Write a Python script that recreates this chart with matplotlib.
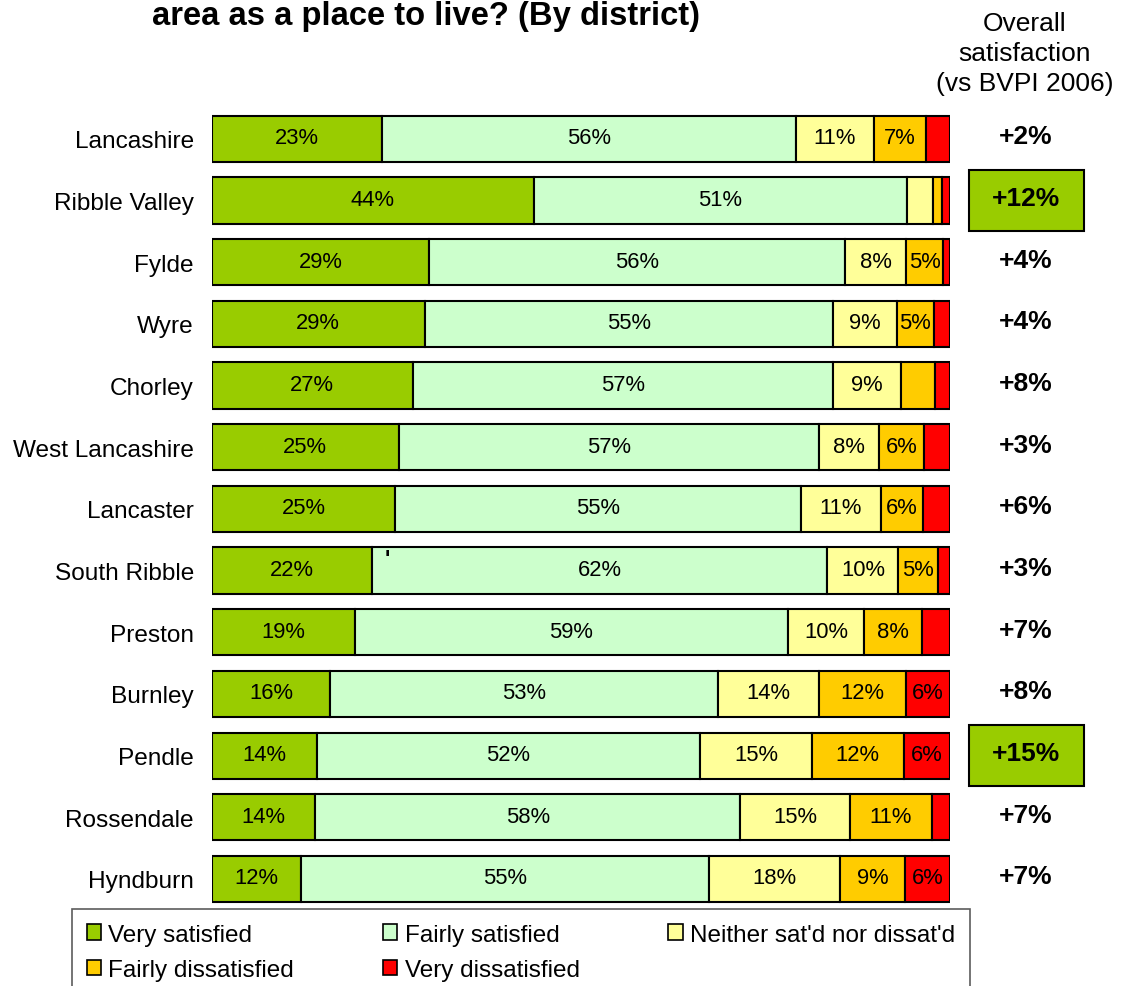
import matplotlib
matplotlib.use("Agg")
import matplotlib.pyplot as plt
from matplotlib.patches import Patch, Rectangle

plt.rcParams['font.family'] = ['Liberation Sans', 'DejaVu Sans']

districts = ["Lancashire", "Ribble Valley", "Fylde", "Wyre", "Chorley",
             "West Lancashire", "Lancaster", "South Ribble", "Preston",
             "Burnley", "Pendle", "Rossendale", "Hyndburn"]

very_sat = [23.0, 43.6, 29.4, 28.8, 27.2, 25.3, 24.8, 21.7, 19.4, 16.0, 14.2, 14.0, 12.0]
fairly_sat = [56.1, 50.6, 56.4, 55.4, 56.9, 57.0, 55.0, 61.7, 58.6, 52.6, 51.9, 57.6, 55.4]
neither = [10.6, 3.5, 8.3, 8.6, 9.3, 8.1, 10.8, 9.6, 10.4, 13.6, 15.2, 14.9, 17.7]
fairly_dis = [7.0, 1.2, 5.0, 5.0, 4.5, 6.1, 5.8, 5.4, 7.8, 11.8, 12.4, 11.0, 8.8]
very_dis = [3.3, 1.1, 0.9, 2.2, 2.1, 3.5, 3.6, 1.6, 3.8, 6.0, 6.3, 2.5, 6.1]

overall_change = [2, 12, 4, 4, 8, 3, 6, 3, 7, 8, 15, 7, 7]

series_names = ["Very satisfied", "Fairly satisfied", "Neither sat'd nor dissat'd",
                "Fairly dissatisfied", "Very dissatisfied"]
series_colors = ["#99CC00", "#CCFFCC", "#FFFF99", "#FFCC00", "#FF0000"]

W, H = 1123, 987
fig = plt.figure(figsize=(W / 100, H / 100), dpi=100)
ax = fig.add_axes([212 / W, 1 - 910.8 / H, 738 / W, 801.7 / H])

rows = list(range(len(districts)))
left = [0.0] * len(districts)
for vals, name, col in zip([very_sat, fairly_sat, neither, fairly_dis, very_dis],
                           series_names, series_colors):
    ax.barh(rows, vals, left=left, height=0.75, color=col,
            edgecolor="black", linewidth=1.5, label=name)
    for r, (l, v) in enumerate(zip(left, vals)):
        if v >= 4.95:
            ax.text(l + v / 2, r - 0.02, f"{v:.0f}%", ha="center", va="center",
                    fontsize=15.8)
    left = [l + v for l, v in zip(left, vals)]

# stray mark in the South Ribble bar
ax.text(23.8, 6.8, "'", ha="center", va="center", fontsize=16, fontweight="bold")

ax.set_xlim(0, 100)
ax.set_ylim(len(districts) - 0.5, -0.5)
ax.set_yticks(rows)
ax.set_yticklabels(districts, fontsize=17.6)
ax.tick_params(axis="y", length=0, pad=13)
ax.set_xticks([])
for s in ax.spines.values():
    s.set_visible(False)

# overall satisfaction column
for r, d in enumerate(overall_change):
    if d >= 10:
        ax.add_patch(Rectangle((102.6, r - 0.49), 15.6, 0.98, facecolor="#99CC00",
                               edgecolor="black", linewidth=1.5, clip_on=False))
    ax.text(110.3, r - 0.04, f"+{d}%", ha="center", va="center",
            fontsize=19, fontweight="bold", clip_on=False)

fig.text(1025 / W, 1 - 54 / H, "Overall\nsatisfaction\n(vs BVPI 2006)",
         ha="center", va="center", fontsize=19, linespacing=1.3)

fig.text(426 / W, 1 - 17 / H, "area as a place to live? (By district)",
         ha="center", va="center", fontsize=23.6, fontweight="bold")

# legend laid out row by row: reorder for matplotlib's column filling
order = [0, 3, 1, 4, 2]
handles = [Patch(facecolor=series_colors[i], edgecolor="black", linewidth=1.2) for i in order]
labels = [series_names[i] for i in order]
leg = fig.legend(handles, labels, loc="upper left",
                 bbox_to_anchor=(72 / W, 1 - 910 / H, 898 / W, 0.0),
                 mode="expand", ncol=3, frameon=True, fancybox=False,
                 edgecolor="#333333", borderaxespad=0, handlelength=0.6,
                 handleheight=0.6, handletextpad=0.3, labelspacing=0.55,
                 borderpad=0.6, columnspacing=0.5,
                 prop={"size": 17.5})
leg.get_frame().set_linewidth(1.2)

fig.savefig("out.png", dpi=100)
